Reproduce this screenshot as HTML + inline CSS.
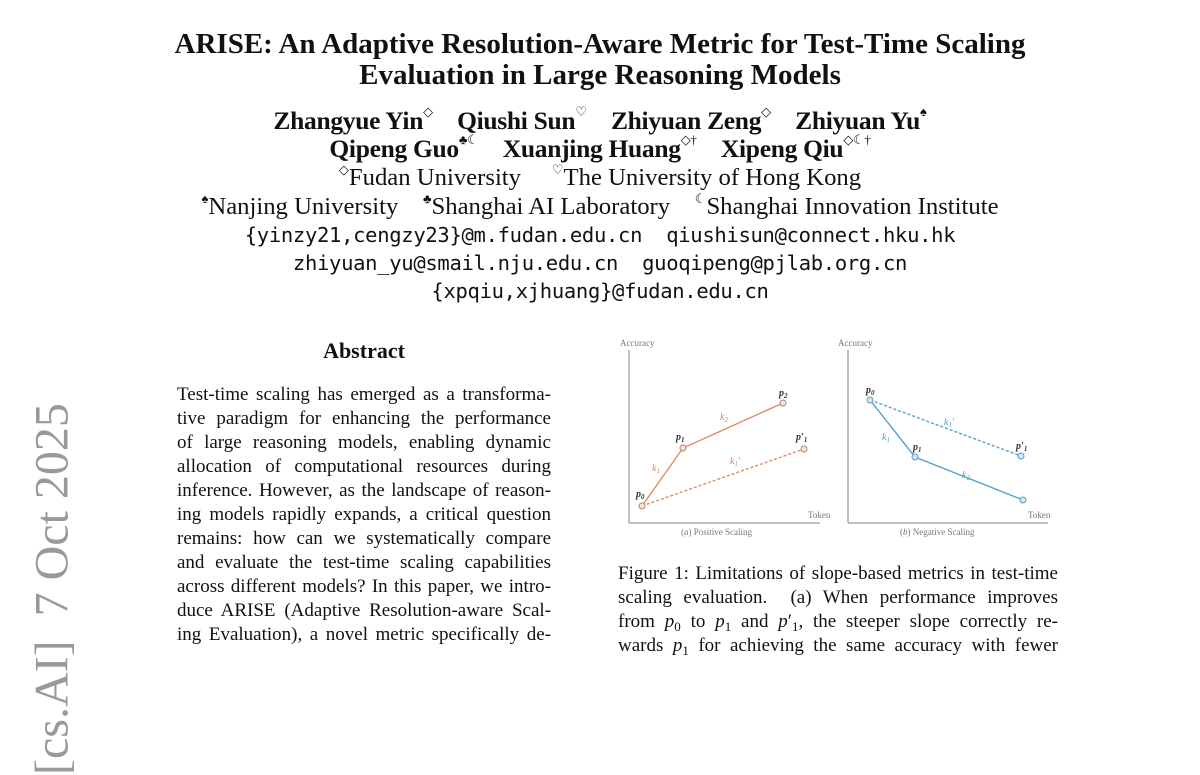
<!DOCTYPE html>
<html><head><meta charset="utf-8"><style>
body{margin:0;width:1200px;height:648px;background:#fff;overflow:hidden;position:relative;font-family:"Liberation Serif",serif;color:#111}
.c{position:absolute;left:0;width:1200px;text-align:center;white-space:nowrap}
.t{font-weight:bold;font-size:29px}
.a{font-weight:bold;font-size:25.5px;letter-spacing:-0.3px}
.f{font-size:24.7px}
.m{font-family:"DejaVu Sans Mono","Liberation Mono",monospace;font-size:20.5px;letter-spacing:-0.3px}
.j{position:relative;white-space:nowrap;text-align:justify;text-align-last:justify;font-size:19px;line-height:24px;height:24px}
sup{font-size:13px;font-weight:normal;position:relative;top:-1px;vertical-align:top;line-height:1}
.s{font-size:13px;position:relative;top:4px;line-height:0}
</style></head><body>
<div class="c t" style="top:28px">ARISE: An Adaptive Resolution-Aware Metric for Test-Time Scaling</div>
<div class="c t" style="top:59px">Evaluation in Large Reasoning Models</div>
<div class="c a" style="top:106px">Zhangyue Yin<sup>◇</sup> &nbsp;&nbsp; Qiushi Sun<sup>♡</sup> &nbsp;&nbsp; Zhiyuan Zeng<sup>◇</sup> &nbsp;&nbsp; Zhiyuan Yu<sup>♠</sup></div>
<div class="c a" style="top:134px">Qipeng Guo<sup>♣☾</sup> &nbsp;&nbsp; Xuanjing Huang<sup>◇†</sup> &nbsp;&nbsp; Xipeng Qiu<sup>◇☾†</sup></div>
<div class="c f" style="top:164px"><sup>◇</sup>Fudan University &nbsp;&nbsp;&nbsp; <sup>♡</sup>The University of Hong Kong</div>
<div class="c f" style="top:193px"><sup>♠</sup>Nanjing University &nbsp;&nbsp; <sup>♣</sup>Shanghai AI Laboratory &nbsp;&nbsp; <sup>☾</sup>Shanghai Innovation Institute</div>
<div class="c m" style="top:223px">{yinzy21,cengzy23}@m.fudan.edu.cn &nbsp;qiushisun@connect.hku.hk</div>
<div class="c m" style="top:251px">zhiyuan_yu@smail.nju.edu.cn &nbsp;guoqipeng@pjlab.org.cn</div>
<div class="c m" style="top:279px">{xpqiu,xjhuang}@fudan.edu.cn</div>

<div style="position:absolute;left:177px;width:374px;top:338px;text-align:center;font-weight:bold;font-size:22px">Abstract</div>
<div style="position:absolute;left:177px;top:383px;width:374px">
<div class="j">Test-time scaling has emerged as a transforma-</div>
<div class="j">tive paradigm for enhancing the performance</div>
<div class="j">of large reasoning models, enabling dynamic</div>
<div class="j">allocation of computational resources during</div>
<div class="j">inference. However, as the landscape of reason-</div>
<div class="j">ing models rapidly expands, a critical question</div>
<div class="j">remains: how can we systematically compare</div>
<div class="j">and evaluate the test-time scaling capabilities</div>
<div class="j">across different models? In this paper, we intro-</div>
<div class="j">duce ARISE (Adaptive Resolution-aware Scal-</div>
<div class="j">ing Evaluation), a novel metric specifically de-</div>
</div>

<div style="position:absolute;left:618px;top:562px;width:440px">
<div class="j">Figure 1: Limitations of slope-based metrics in test-time</div>
<div class="j">scaling evaluation. &nbsp;(a) When performance improves</div>
<div class="j">from <i>p</i><span class="s">0</span> to <i>p</i><span class="s">1</span> and <i>p</i>′<span class="s">1</span>, the steeper slope correctly re-</div>
<div class="j">wards <i>p</i><span class="s">1</span> for achieving the same accuracy with fewer</div>
</div>

<div style="position:absolute;left:52px;top:565px;transform:translate(-50%,-50%) rotate(-90deg);white-space:nowrap;font-size:48px;color:#999;width:420px;text-align:left">[cs.AI] &nbsp;7 Oct 2025</div>

<svg style="position:absolute;left:0;top:0" width="1200" height="648" font-family="Liberation Serif,serif">
<g stroke="#999" stroke-width="1.2" fill="none">
<line x1="629" y1="350" x2="629" y2="523"/><line x1="629" y1="523" x2="820" y2="523"/>
<line x1="848" y1="350" x2="848" y2="523"/><line x1="848" y1="523" x2="1048" y2="523"/>
</g>
<g font-size="9" fill="#777">
<text x="620" y="346">Accuracy</text><text x="808" y="518">Token</text>
<text x="838" y="346">Accuracy</text><text x="1028" y="518">Token</text>
<text x="681" y="535">(<tspan font-style="italic">a</tspan>) Positive Scaling</text>
<text x="900" y="535">(<tspan font-style="italic">b</tspan>) Negative Scaling</text>
</g>
<g stroke="#e08a64" stroke-width="1.4" fill="none">
<polyline points="642,506 683,448 783,403"/>
<line x1="642" y1="506" x2="804" y2="449" stroke-dasharray="3,2"/>
</g>
<g fill="#f7e2d8" stroke="#b08878" stroke-width="1">
<circle cx="642" cy="506" r="3"/><circle cx="683" cy="448" r="3"/><circle cx="783" cy="403" r="3"/><circle cx="804" cy="449" r="3"/>
</g>
<g fill="#e08a64" font-size="10" font-style="italic">
<text x="652" y="471">k<tspan font-size="7" dy="2">1</tspan></text>
<text x="720" y="420">k<tspan font-size="7" dy="2">2</tspan></text>
<text x="730" y="464">k<tspan font-size="7" dy="2">1</tspan><tspan dy="-2">′</tspan></text>
</g>
<g stroke="#4fa3d1" stroke-width="1.4" fill="none">
<polyline points="870,400 915,457 1023,500"/>
<line x1="870" y1="400" x2="1021" y2="456" stroke-dasharray="3,2"/>
</g>
<g fill="#cfe8f5" stroke="#6a9ab4" stroke-width="1">
<circle cx="870" cy="400" r="3"/><circle cx="915" cy="457" r="3"/><circle cx="1023" cy="500" r="3"/><circle cx="1021" cy="456" r="3"/>
</g>
<g fill="#4fa3d1" font-size="10" font-style="italic">
<text x="882" y="440">k<tspan font-size="7" dy="2">1</tspan></text>
<text x="962" y="478">k<tspan font-size="7" dy="2">2</tspan></text>
<text x="944" y="425">k<tspan font-size="7" dy="2">1</tspan><tspan dy="-2">′</tspan></text>
</g>
<g fill="#333" font-size="10" font-style="italic" font-weight="bold">
<text x="636" y="497">p<tspan font-size="7" dy="2">0</tspan></text>
<text x="676" y="440">p<tspan font-size="7" dy="2">1</tspan></text>
<text x="779" y="396">p<tspan font-size="7" dy="2">2</tspan></text>
<text x="796" y="440">p′<tspan font-size="7" dy="2">1</tspan></text>
<text x="866" y="393">p<tspan font-size="7" dy="2">0</tspan></text>
<text x="913" y="450">p<tspan font-size="7" dy="2">1</tspan></text>
<text x="1016" y="449">p′<tspan font-size="7" dy="2">1</tspan></text>
</g>
</svg>
</body></html>
